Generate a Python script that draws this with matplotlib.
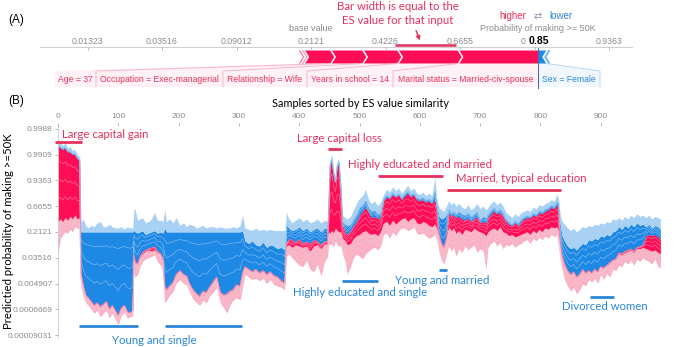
import numpy as np
import matplotlib
matplotlib.use("Agg")
import matplotlib.pyplot as plt
from matplotlib.patches import Polygon, FancyArrowPatch
from matplotlib.lines import Line2D

# ---------------- Panel A data (log-odds / ES values) ----------------
base_value = -1.3123
pos_small_es = [0.03, 0.04]
pos_names = ["Age = 37", "Occupation = Exec-managerial", "Relationship = Wife",
             "Years in school = 14", "Marital status = Married-civ-spouse"]
pos_es = [0.36, 0.43, 0.47, 0.81, 1.07]
neg_names = ["Sex = Female"]
neg_es = [0.12]
neg_small_es = [0.04]
axis_tick_logodds = [-4.3123, -3.3123, -2.3123, -1.3123, -0.3123, 0.6877, 1.6877, 2.6877]
axis_tick_labels = ["0.01323", "0.03516", "0.09012", "0.2121", "0.4226", "0.6655", "0.8440", "0.9363"]

# ---------------- Panel B data (log-odds, per sample index) ----------------
sample_idx = [
    0, 4, 8, 12, 16, 20, 24, 28, 32, 36,
    38, 42, 46, 50, 55, 60, 65, 70, 75, 80, 85, 90, 95, 100, 105, 110, 115, 120, 124,
    126, 128, 132, 136, 140, 145, 150, 155, 160, 165, 170, 174,
    177, 180, 185, 191, 196, 202, 208, 213, 218, 224, 230, 235, 240, 246, 251, 257, 263, 269, 275, 280, 285, 290, 296, 302, 306,
    310, 316, 322, 328, 334, 340, 346, 352, 358, 364, 370, 376,
    379, 383, 388, 394, 400, 406, 412, 418, 424, 430, 436, 442, 447,
    449, 451, 454, 457, 460, 463, 466, 469, 472,
    476, 480, 485, 490, 495, 500, 505, 510, 515, 520, 525, 530, 535,
    540, 545, 550, 555, 560, 565, 570, 575, 580, 585, 590, 595, 600, 605, 610, 615, 620, 625, 628,
    632, 636, 640, 644,
    648, 652, 656, 660, 665, 670, 675, 680, 685, 690, 695, 700, 705, 710, 713, 718, 723, 728, 733, 738,
    743, 748, 753, 758, 763, 768, 773, 778, 783, 788, 793, 798, 803, 808, 813, 818, 823, 827, 830,
    833, 836, 840, 845, 850, 855, 860, 865, 870, 875, 880, 885, 890, 895, 900, 905, 910, 915, 920, 925,
    930, 935, 940, 945, 950, 955, 960, 965, 970, 975, 980, 985, 990, 995, 999,
]
# upper edge of the negative (blue) stack
top_edge = [
    5.7, 5.6, 5.4, 5.6, 5.2, 5.3, 5.0, 5.1, 4.7, 4.5,
    -0.6, -0.3, -0.8, -1.0, -0.8, -0.9, -0.6, -0.5, -0.9, -0.9, -0.7, -0.9, -1.0, -1.0, -0.9, -1.1, -0.9, -1.0, -1.0,
    0.5, 0.4, -0.4, -0.3, -0.2, -0.6, -0.5, -0.3, 0.2, -0.4, -0.4, -0.5,
    0.4, -0.5, -0.3, -0.6, -0.2, -0.8, -0.6, -0.9, -0.7, -0.8, -1.0, -0.9, -0.8, -1.0, -0.9, -0.9, -1.0, -0.9, -1.0, -1.0, -1.0, -0.9, -1.0, -0.8, 0.0,
    -1.0, -1.1, -1.2, -1.0, -1.2, -1.1, -1.2, -1.1, -1.2, -1.2, -1.2, -1.2,
    0.2, -0.3, -0.6, -0.4, -0.2, -0.5, -0.3, -0.6, -0.5, -0.3, -0.6, -0.4, -0.5,
    1.0, 4.2, 4.7, 3.6, 2.8, 4.2, 4.4, 2.5, 0.0,
    -0.2, -0.3, -0.1, 0.4, 0.9, 1.3, 1.5, 2.0, 1.2, 0.9, 1.1, 0.7, 1.0,
    1.6, 2.0, 1.8, 2.2, 1.9, 2.1, 1.7, 2.0, 2.3, 1.9, 2.1, 1.7, 1.6, 1.8, 1.5, 1.7, 1.5, 2.9, 1.3,
    0.6, 0.4, 0.3, 0.7,
    1.1, 0.8, 1.0, 0.7, 0.9, 0.6, 0.5, 0.8, 0.4, 0.6, 0.9, 0.5, 0.7, 0.4, 0.6, 0.9, 1.1, 0.8, 1.0, 0.7,
    0.2, 0.0, -0.2, 0.1, -0.1, 0.2, 0.3, 0.4, 0.3, 0.6, 0.5, 0.8, 0.7, 0.9, 1.0, 1.2, 1.1, 1.6, 1.3,
    0.0, -0.5, -0.7, -1.0, -1.2, -1.0, -1.3, -1.1, -0.9, -1.0, -0.8, -0.9, -0.7, -0.8, -0.6, -0.7, -0.5, -0.6, -0.3, -0.4,
    -0.2, -0.4, -0.1, -0.3, 0.0, -0.2, 0.1, -0.1, 0.0, -0.2, 0.0, -0.3, -0.1, -0.2, -0.3,
]
# split between large (dark) and small (light) negative features
blue_split = [
    5.5, 5.3, 5.2, 5.3, 5.0, 5.0, 4.8, 4.8, 4.5, 4.3,
    -1.3, -1.3, -1.3, -1.3, -1.3, -1.3, -1.3, -1.3, -1.3, -1.3, -1.3, -1.3, -1.3, -1.3, -1.3, -1.3, -1.3, -1.3, -1.3,
    -1.2, -1.3, -1.4, -1.3, -1.2, -1.5, -1.4, -1.3, -1.2, -1.4, -1.3, -1.4,
    -1.0, -1.3, -1.3, -1.3, -1.3, -1.3, -1.3, -1.3, -1.3, -1.3, -1.3, -1.3, -1.3, -1.3, -1.3, -1.3, -1.3, -1.3, -1.3, -1.3, -1.3, -1.3, -1.3, -1.3, -1.2,
    -2.0, -2.2, -2.0, -2.3, -2.4, -2.1, -2.5, -2.3, -2.4, -2.6, -2.5, -2.7,
    -0.8, -1.0, -1.2, -1.1, -0.9, -1.2, -1.0, -1.3, -1.1, -1.0, -1.3, -1.0, -1.1,
    0.8, 3.9, 4.4, 3.3, 2.6, 3.9, 4.1, 2.2, -0.5,
    -0.7, -0.8, -0.7, -0.3, 0.1, 0.6, 0.8, 1.2, 0.6, 0.3, 0.4, 0.1, 0.2,
    1.3, 1.6, 1.4, 1.8, 1.5, 1.7, 1.4, 1.7, 1.9, 1.6, 1.7, 1.4, 1.3, 1.4, 1.2, 1.3, 1.1, 2.0, 0.9,
    -0.1, -0.3, -0.2, 0.0,
    0.5, 0.2, 0.3, 0.1, 0.3, 0.1, 0.0, 0.2, -0.1, 0.1, 0.3, -0.3, -0.1, -0.2, 0.1, 0.4, 0.6, 0.3, 0.5, 0.2,
    -0.3, -0.5, -0.7, -0.4, -0.6, -0.3, -0.1, 0.0, -0.1, 0.2, 0.1, 0.4, 0.3, 0.5, 0.6, 0.8, 0.7, 1.1, 0.9,
    -0.8, -1.6, -2.0, -2.4, -2.6, -2.5, -2.7, -2.4, -2.2, -2.3, -1.9, -2.0, -1.8, -1.9, -1.6, -1.7, -1.5, -1.6, -1.3, -1.2,
    -0.9, -1.1, -0.8, -1.0, -0.7, -0.9, -0.6, -0.8, -0.7, -0.9, -0.7, -1.0, -0.8, -0.9, -1.1,
]
# model output (boundary between positive and negative stacks)
output_logodds = [
    5.4, 5.2, 5.1, 5.2, 4.9, 4.9, 4.7, 4.7, 4.4, 4.2,
    -4.5, -5.5, -6.2, -6.4, -6.7, -7.0, -6.8, -7.1, -6.9, -6.7, -7.3, -7.0, -7.4, -7.8, -7.2, -7.0, -7.5, -7.6, -7.4,
    -3.0, -3.6, -3.8, -3.2, -2.9, -2.7, -2.6, -2.5, -2.4, -2.8, -3.0, -3.4,
    -5.5, -5.8, -5.5, -5.2, -4.6, -4.3, -4.6, -4.7, -5.3, -5.8, -6.1, -6.3, -5.9, -6.0, -5.6, -5.2, -4.8, -6.0, -6.2, -6.1, -5.9, -5.8, -5.4, -5.5, -4.5,
    -4.0, -4.2, -4.4, -4.2, -4.5, -4.3, -4.6, -4.4, -4.7, -4.8, -5.1, -5.3,
    -2.2, -1.8, -1.9, -2.1, -1.8, -2.2, -2.0, -2.2, -1.9, -2.0, -2.3, -2.0, -2.0,
    0.6, 3.8, 4.3, 3.2, 2.5, 3.8, 4.0, 2.0, -0.8,
    -1.3, -1.5, -1.2, -0.8, -0.5, 0.0, 0.3, 0.6, 0.2, -0.2, -0.1, -0.3, -0.1,
    1.1, 1.4, 1.3, 1.6, 1.4, 1.6, 1.2, 1.5, 1.7, 1.4, 1.6, 1.2, 1.1, 1.2, 1.0, 1.1, 0.9, 1.2, 0.6,
    -1.5, -2.2, -2.5, -1.8,
    0.2, -0.1, 0.0, -0.2, -0.1, -0.3, -0.4, -0.2, -0.5, -0.3, -0.1, -0.6, -0.5, -0.6, -0.2, 0.1, 0.3, 0.1, 0.2, -0.1,
    -0.5, -0.7, -0.8, -0.6, -0.8, -0.5, -0.3, -0.2, -0.2, 0.0, -0.1, 0.2, 0.1, 0.3, 0.4, 0.6, 0.5, 0.8, 0.6,
    -2.3, -3.2, -3.8, -4.3, -4.6, -4.4, -4.8, -4.6, -4.2, -4.5, -4.3, -4.5, -4.2, -4.4, -4.0, -4.1, -3.9, -3.7, -3.5, -3.4,
    -2.9, -3.0, -2.8, -2.7, -2.6, -2.8, -2.5, -2.4, -2.3, -1.6, -1.5, -1.6, -1.5, -1.7, -1.9,
]
# split between large (dark) and small (light) positive features
red_split = [
    -0.5, -0.3, -0.5, -0.2, -0.4, -0.1, -0.3, 0.0, -0.3, -0.2,
    -4.5, -5.5, -6.2, -6.4, -6.7, -7.0, -6.8, -7.1, -6.9, -6.7, -7.3, -7.0, -7.4, -7.8, -7.2, -7.0, -7.5, -7.6, -7.4,
    -3.3, -3.7, -3.8, -3.3, -3.0, -2.8, -2.7, -2.8, -2.7, -2.9, -3.0, -3.4,
    -5.5, -5.8, -5.5, -5.2, -4.6, -4.3, -4.6, -4.7, -5.3, -5.8, -6.1, -6.3, -5.9, -6.0, -5.6, -5.2, -4.8, -6.0, -6.2, -6.1, -5.9, -5.8, -5.4, -5.5, -4.5,
    -4.0, -4.2, -4.4, -4.2, -4.5, -4.3, -4.6, -4.4, -4.7, -4.8, -5.1, -5.3,
    -2.4, -2.3, -2.5, -2.3, -2.4, -2.5, -2.4, -2.8, -2.4, -2.3, -2.6, -2.2, -2.3,
    -1.3, -1.4, -1.2, -1.4, -1.0, -1.2, -1.3, -1.3, -1.8,
    -2.0, -2.3, -2.2, -1.8, -1.6, -1.5, -1.3, -1.2, -1.4, -1.5, -1.4, -1.6, -1.3,
    -0.6, -0.5, -0.8, -0.4, -0.7, -0.5, -0.3, -0.2, -0.5, -0.3, -0.2, -0.6, -0.7, -0.5, -0.6, -0.8, -0.9, -0.7, -1.0,
    -1.6, -2.2, -2.5, -1.9,
    -0.9, -1.2, -1.0, -1.4, -1.2, -1.5, -1.1, -1.2, -1.3, -1.0, -1.2, -1.3, -1.4, -1.6, -1.3, -1.1, -1.0, -1.2, -0.9, -1.3,
    -1.4, -1.6, -1.5, -1.7, -1.6, -1.5, -1.4, -1.3, -1.5, -1.2, -1.4, -1.1, -1.3, -1.0, -1.1, -0.9, -1.0, -0.9, -1.2,
    -2.4, -3.2, -3.8, -4.3, -4.6, -4.4, -4.8, -4.6, -4.2, -4.5, -4.3, -4.5, -4.2, -4.4, -4.0, -4.1, -3.9, -3.7, -3.5, -3.4,
    -3.0, -3.1, -2.9, -2.8, -2.7, -2.9, -2.6, -2.6, -2.5, -2.6, -2.7, -2.8, -2.7, -2.9, -3.0,
]
# lower edge of the positive (red) stack
bottom_edge = [
    -3.0, -1.8, -1.5, -1.3, -1.4, -1.1, -1.3, -0.9, -1.0, -1.1,
    -5.5, -6.3, -6.8, -7.0, -7.3, -7.6, -7.4, -7.9, -7.6, -7.4, -8.0, -7.6, -8.1, -8.5, -7.8, -7.5, -8.0, -7.9, -7.8,
    -4.5, -4.8, -4.6, -4.0, -3.6, -3.4, -3.3, -3.2, -3.1, -3.6, -3.9, -4.4,
    -6.8, -6.6, -6.2, -5.9, -5.3, -5.0, -5.3, -5.4, -6.0, -6.5, -6.8, -7.0, -6.6, -6.8, -6.3, -6.0, -5.6, -6.8, -7.2, -7.6, -7.0, -6.6, -6.4, -6.6, -5.6,
    -4.6, -4.8, -5.0, -4.9, -5.1, -4.9, -5.3, -5.0, -5.4, -5.5, -5.6, -5.8,
    -3.2, -3.0, -3.3, -3.6, -3.9, -4.0, -3.5, -4.2, -4.4, -3.8, -4.7, -3.6, -3.2,
    -2.2, -2.3, -2.2, -2.5, -2.0, -2.3, -2.4, -2.4, -3.0,
    -3.6, -4.6, -4.0, -3.3, -3.0, -3.2, -3.4, -3.0, -2.8, -2.6, -2.5, -2.7, -2.4,
    -1.5, -1.4, -1.8, -1.3, -1.6, -1.2, -1.0, -1.0, -1.2, -1.1, -0.9, -1.4, -1.5, -1.4, -1.6, -1.8, -1.7, -1.5, -1.9,
    -2.9, -3.5, -3.8, -3.1,
    -2.4, -2.8, -2.5, -3.2, -2.6, -2.9, -2.4, -2.7, -2.5, -2.3, -2.9, -2.6, -2.8, -4.2, -2.5, -2.2, -2.0, -2.4, -2.1, -2.6,
    -2.3, -2.4, -2.2, -2.5, -2.3, -2.2, -2.0, -1.9, -2.2, -1.8, -2.0, -1.7, -1.9, -1.6, -1.8, -1.5, -1.7, -1.5, -2.3,
    -3.5, -4.2, -5.0, -5.5, -5.9, -5.6, -6.1, -5.8, -5.3, -5.5, -5.0, -5.2, -4.9, -5.3, -4.6, -5.0, -4.5, -4.8, -4.2, -4.3,
    -3.9, -4.0, -3.6, -3.8, -3.5, -3.9, -3.4, -3.6, -3.3, -3.5, -3.6, -3.8, -3.4, -4.0, -4.1,
]
y_tick_logodds = [-9.3123, -7.3123, -5.3123, -3.3123, -1.3123, 0.6877, 2.6877, 4.6877, 6.6877]
y_tick_labels = ["0.00009031", "0.0006669", "0.004907", "0.03516", "0.2121",
                 "0.6655", "0.9363", "0.9909", "0.9988"]
x_ticks = [0, 100, 200, 300, 400, 500, 600, 700, 800, 900]

n = len(sample_idx)
assert all(len(a) == n for a in [top_edge, blue_split, output_logodds, red_split, bottom_edge])

# ---------------- style ----------------
RED = "#ff0d57"
BLUE = "#1e88e5"
PINK = "#f9b0c3"
LBLUE = "#a9d1f4"
TXT_RED = "#e8305d"
TXT_BLUE = "#2a87d8"
GRAY = "#8c8c8c"
SANS = ["Liberation Sans", "DejaVu Sans"]
HUM = ["Lato", "DejaVu Sans"]

W, H = 675, 347
fig = plt.figure(figsize=(W / 100, H / 100), dpi=100)


def ftext(x, y, s, **kw):
    fig.text(x / W, 1 - y / H, s, **kw)


def fline(x0, x1, y, color, lw=2.0):
    fig.add_artist(Line2D([x0 / W, x1 / W], [1 - y / H, 1 - y / H],
                          transform=fig.transFigure, color=color, lw=lw,
                          solid_capstyle="butt"))


# ================= Panel A =================
AX_L, AX_R = 40, 633
PX_PER = 74.5
BASE_PX = 311
xa0 = base_value - (BASE_PX - AX_L) / PX_PER
xa1 = base_value + (AX_R - BASE_PX) / PX_PER
axA = fig.add_axes([AX_L / W, 1 - 95 / H, (AX_R - AX_L) / W, 95 / H])
axA.set_xlim(xa0, xa1)
axA.set_ylim(95, 0)
axA.axis("off")


def px2L(px):
    return xa0 + (px - AX_L) / PX_PER


out_val = base_value + sum(pos_small_es) + sum(pos_es) - sum(neg_es) - sum(neg_small_es)
out_prob = 1 / (1 + np.exp(-out_val))

# axis line and ticks
axA.plot([xa0, xa1], [47.5, 47.5], color="#d0d0d0", lw=0.8)
for L, lab in zip(axis_tick_logodds, axis_tick_labels):
    axA.plot([L, L], [47.5, 50], color="#bbbbbb", lw=0.6)
    if abs(L - out_val) < 0.3:
        # tick label mostly hidden behind the output value: only its first digit shows
        axA.text(L - 13.5 / PX_PER, 41, lab[0], ha="left", va="center", fontsize=6.3,
                 color=GRAY, family=SANS)
    else:
        axA.text(L, 41, lab, ha="center", va="center", fontsize=6.3, color=GRAY, family=SANS)
axA.text(out_val + 0.01, 40.5, f"{out_prob:.2f}", ha="center", va="center", fontsize=7.6,
         fontweight="bold", color="black", family=SANS)

y0b, y1b, ym = 50.5, 63.5, 57.0
d = 4 / PX_PER
# red stack
red_start = out_val - sum(pos_small_es) - sum(pos_es)
axA.add_patch(Polygon([(red_start, y0b), (out_val, y0b), (out_val, y1b), (red_start, y1b),
                       (red_start + d, ym)], closed=True, fc=RED, ec="none"))
small_end = red_start + sum(pos_small_es)
axA.add_patch(Polygon([(red_start, y0b), (small_end, y0b), (small_end + d, ym), (small_end, y1b),
                       (red_start, y1b), (red_start + d, ym)], closed=True, fc="#ff8aa8", ec="none"))
bounds = [red_start]
acc = red_start
for v in pos_small_es:
    acc += v
    bounds.append(acc)
seg_edges = [acc]
for v in pos_es:
    acc += v
    seg_edges.append(acc)
for b in bounds[1:] + seg_edges[1:-1]:
    axA.plot([b, b + d, b], [y0b, ym, y1b], color="white", lw=1.1)
# blue stack
blue_end = out_val + sum(neg_es) + sum(neg_small_es)
axA.add_patch(Polygon([(out_val, y0b), (blue_end, y0b), (blue_end - d, ym), (blue_end, y1b),
                       (out_val, y1b)], closed=True, fc=BLUE, ec="none"))
sb = out_val + sum(neg_es)
axA.add_patch(Polygon([(sb, y0b), (blue_end, y0b), (blue_end - d, ym), (blue_end, y1b),
                       (sb, y1b), (sb - d, ym)], closed=True, fc="#7fb9ee", ec="none"))
axA.plot([sb, sb - d, sb], [y0b, ym, y1b], color="white", lw=1.1)

# label connectors
label_edges_px = [55, 96, 223, 307, 393, 538]
for i, name in enumerate(pos_names):
    a, b = seg_edges[i], seg_edges[i + 1]
    l, r = px2L(label_edges_px[i]), px2L(label_edges_px[i + 1])
    axA.add_patch(Polygon([(a, y1b), (b, y1b), (r, 71), (r, 87), (l, 87), (l, 71)],
                          closed=True, fc=RED, alpha=0.05, ec="none"))
    if i < len(pos_names) - 1:
        axA.plot([b, r, r], [y1b, 71, 87], color="#f7b6c8", lw=0.7)
    axA.text((l + r) / 2, 79.5, name, ha="center", va="center", fontsize=6.2,
             color=TXT_RED, family=SANS)
sex_l, sex_r = px2L(538), px2L(600)
axA.add_patch(Polygon([(out_val, y1b), (out_val + neg_es[0], y1b), (sex_r, 71), (sex_r, 87),
                       (sex_l, 87), (sex_l, 71)], closed=True, fc=BLUE, alpha=0.06, ec="none"))
axA.plot([out_val + neg_es[0], sex_r, sex_r], [y1b, 71, 87], color="#b9d8f3", lw=0.7)
axA.text((sex_l + sex_r) / 2, 79.5, neg_names[0], ha="center", va="center", fontsize=6.2,
         color=TXT_BLUE, family=SANS)
axA.plot([out_val, out_val], [48, 88], color="#4c6fa8", lw=0.8)

# header texts
ftext(BASE_PX, 28.5, "base value", ha="center", va="center", fontsize=6.5, color=GRAY, family=SANS)
ftext(538, 28.5, "Probability of making >= 50K", ha="center", va="center", fontsize=6.5,
      color=GRAY, family=SANS)
ftext(526, 16, "higher", ha="right", va="center", fontsize=7, color=TXT_RED, family=SANS)
ftext(538, 16, "\u21c4", ha="center", va="center", fontsize=7, color="#9a8fb0", family=["DejaVu Sans"])
ftext(549, 16, "lower", ha="left", va="center", fontsize=7, color=TXT_BLUE, family=SANS)
ftext(398, 7, "Bar width is equal to the", ha="center", va="center", fontsize=8.2,
      color=TXT_RED, family=HUM)
ftext(398, 20, "ES value for that input", ha="center", va="center", fontsize=8.2,
      color=TXT_RED, family=HUM)
fig.add_artist(FancyArrowPatch((415 / W, 1 - 28 / H), (421 / W, 1 - 43 / H),
                               transform=fig.transFigure, arrowstyle="-|>",
                               mutation_scale=6, color=TXT_RED, lw=1.0))
fline(395, 456, 45, TXT_RED, lw=1.8)
ftext(16, 20, "(A)", ha="center", va="center", fontsize=8.5, family=SANS)
ftext(16, 101, "(B)", ha="center", va="center", fontsize=8.5, family=SANS)

# ================= Panel B =================
axB = fig.add_axes([58 / W, 1 - 338 / H, 603 / W, 212 / H])
s = np.array(sample_idx)
top_a = np.array(top_edge)
bs_a = np.array(blue_split)
out_a = np.array(output_logodds)
rs_a = np.array(red_split)
bot_a = np.array(bottom_edge)
axB.fill_between(s, bot_a, rs_a, color=PINK, lw=0)
axB.fill_between(s, rs_a, out_a, color=RED, lw=0)
axB.fill_between(s, out_a, bs_a, color=BLUE, lw=0)
axB.fill_between(s, bs_a, top_a, color=LBLUE, lw=0)
# thin separators between the individual feature bands inside the stacks
for k in (0.3, 0.55, 0.8):
    axB.plot(s, out_a + k * (bs_a - out_a), color="#8fc3f0", lw=0.45, alpha=0.9)
    axB.plot(s, rs_a + k * (out_a - rs_a), color="#ff7ea0", lw=0.45, alpha=0.9)
    axB.plot(s, bot_a + k * (rs_a - bot_a), color="#fbc7d4", lw=0.4, alpha=0.9)
axB.set_xlim(0, 1000)
axB.set_ylim(-9.53, 6.905)
axB.xaxis.tick_top()
axB.set_xticks(x_ticks)
axB.set_xticklabels([str(t) for t in x_ticks], family=SANS)
axB.set_yticks(y_tick_logodds)
axB.set_yticklabels(y_tick_labels, family=SANS)
axB.tick_params(axis="both", labelsize=6, colors="#aaaaaa", labelcolor=GRAY,
                length=2.5, width=0.6, pad=1.5)
for sp in ["top", "right", "bottom"]:
    axB.spines[sp].set_visible(False)
axB.spines["left"].set_color("#cccccc")
axB.spines["left"].set_linewidth(0.6)

ftext(360, 104, "Samples sorted by ES value similarity", ha="center", va="center",
      fontsize=7.8, color="black", family=HUM)
ftext(9, 231, "Predictied probability of making >=50K", ha="center", va="center",
      rotation=90, fontsize=8.2, color="black", family=HUM)

ann = [
    ("Large capital gain", 62, 134, 55, 82, 142, TXT_RED),
    ("Large capital loss", 297, 138, 328, 342, 149, TXT_RED),
    ("Highly educated and married", 348, 164, 378, 443, 176, TXT_RED),
    ("Married, typical education", 456, 179, 447, 561, 190, TXT_RED),
    ("Highly educated and single", 293, 293, 342, 378, 281, TXT_BLUE),
    ("Young and married", 395, 280, 439, 447, 270, TXT_BLUE),
    ("Divorced women", 562, 307, 590, 614, 297, TXT_BLUE),
    ("Young and single", 112, 340, 79, 138, 326, TXT_BLUE),
]
for txt, tx, ty, u0, u1, uy, col in ann:
    ftext(tx, ty, txt, ha="left", va="center", fontsize=8.2, color=col, family=HUM)
    fline(u0, u1, uy, col)
fline(165, 242, 326, TXT_BLUE)

fig.savefig("out.png", dpi=100)
